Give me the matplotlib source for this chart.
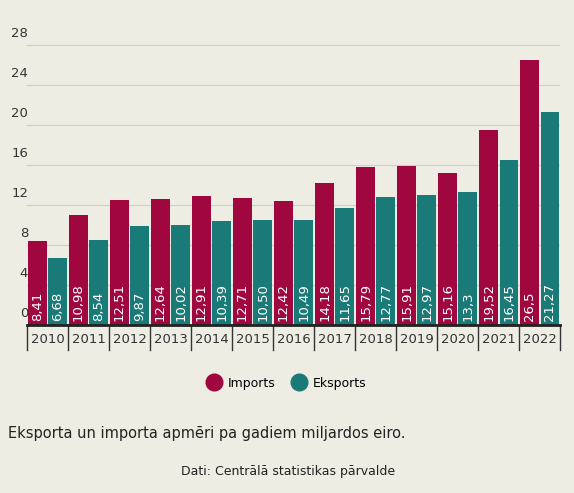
import matplotlib.pyplot as plt
import numpy as np
from matplotlib.lines import Line2D

years = ['2010', '2011', '2012', '2013', '2014', '2015', '2016', '2017', '2018', '2019', '2020', '2021', '2022']
imports = [8.41, 10.98, 12.51, 12.64, 12.91, 12.71, 12.42, 14.18, 15.79, 15.91, 15.16, 19.52, 26.5]
exports = [6.68, 8.54, 9.87, 10.02, 10.39, 10.50, 10.49, 11.65, 12.77, 12.97, 13.3, 16.45, 21.27]
imp_labels = ['8,41', '10,98', '12,51', '12,64', '12,91', '12,71', '12,42', '14,18', '15,79', '15,91', '15,16', '19,52', '26,5']
exp_labels = ['6,68', '8,54', '9,87', '10,02', '10,39', '10,50', '10,49', '11,65', '12,77', '12,97', '13,3', '16,45', '21,27']
yticks = [0, 4, 8, 12, 16, 20, 24, 28]

bg = '#eeede4'
c_imp = '#a0073f'
c_exp = '#1a7a78'

fig = plt.figure(figsize=(5.74, 4.93), dpi=100, facecolor=bg)
ax = fig.add_axes([0.047, 0.341, 0.929, 0.598], facecolor=bg)

x = np.arange(len(years))
w = 0.45
ax.bar(x - 0.245, imports, w, color=c_imp, zorder=2)
ax.bar(x + 0.245, exports, w, color=c_exp, zorder=2)
for i in range(len(years)):
    ax.text(x[i] - 0.245, 0.4, imp_labels[i], rotation=90, color='white', ha='center', va='bottom', fontsize=9.5, zorder=3)
    ax.text(x[i] + 0.245, 0.4, exp_labels[i], rotation=90, color='white', ha='center', va='bottom', fontsize=9.5, zorder=3)

ax.set_xlim(-0.5, len(years) - 0.5)
ax.set_ylim(0, 29.5)
for t in yticks:
    ax.axhline(t, color='#cfcfc6', lw=0.8, zorder=1)
    ax.text(-0.47, t + 0.5, str(t), transform=ax.get_yaxis_transform() if False else ax.transData,
            ha='right', va='bottom', fontsize=9.5, color='#333333')
ax.set_yticks([])
ax.set_xticks(x)
ax.set_xticklabels(years, fontsize=9.5, color='#333333')
ax.tick_params(axis='x', length=0, pad=6)
for b in np.arange(-0.5, len(years)):
    ax.plot([b, b], [0, -2.5], color='#333333', lw=1, clip_on=False)
for s in ['top', 'right', 'left']:
    ax.spines[s].set_visible(False)
ax.spines['bottom'].set_linewidth(2)
ax.spines['bottom'].set_color('#222222')

handles = [Line2D([], [], marker='o', ls='', ms=12, color=c_imp, label='Imports'),
           Line2D([], [], marker='o', ls='', ms=12, color=c_exp, label='Eksports')]
fig.legend(handles=handles, loc='center', bbox_to_anchor=(0.495, 0.223), ncol=2, frameon=False,
           fontsize=9, handletextpad=0.1, columnspacing=0.9)

fig.text(0.014, 0.121, 'Eksporta un importa apmēri pa gadiem miljardos eiro.', fontsize=10.5, color='#222222', va='center')
fig.text(0.502, 0.044, 'Dati: Centrālā statistikas pārvalde', fontsize=9, color='#222222', ha='center', va='center')

fig.savefig('out.png', dpi=100, facecolor=bg)
